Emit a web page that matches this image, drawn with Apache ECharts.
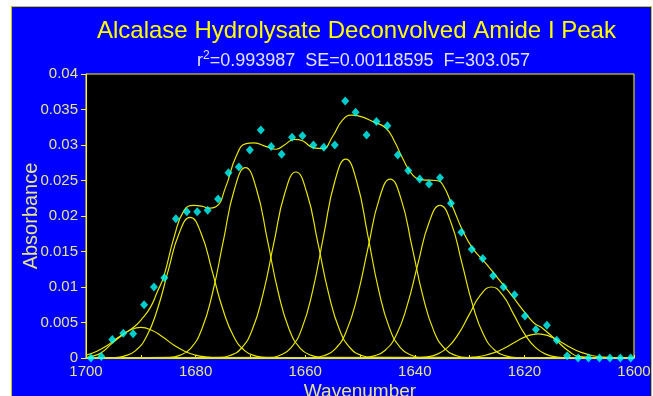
<!DOCTYPE html>
<html>
<head>
<meta charset="utf-8">
<script src="https://cdn.jsdelivr.net/npm/echarts@6/dist/echarts.min.js"></script>
<style>
html,body{margin:0;padding:0;background:#ffffff;width:653px;height:396px;overflow:hidden;}
#panel{position:absolute;left:11px;top:6px;width:641px;height:390px;background:#0000ff;border:1px solid #c8c800;border-bottom:none;box-sizing:border-box;}
#chart{position:absolute;left:0;top:0;width:653px;height:396px;}
</style>
</head>
<body>
<div id="panel"></div>
<div id="chart"></div>
<script>
// ---- data ----
const titleText = 'Alcalase Hydrolysate Deconvolved Amide I Peak';
const statR2 = '0.993987';
const statSE = '0.00118595';
const statF = '303.057';

// measured spectrum points (wavenumber, absorbance)
const scanWavenumber = [1699.1,1697.2,1695.2,1693.2,1691.4,1689.4,1687.6,1685.7,1683.6,1681.6,1679.7,1677.8,1675.9,1674.0,1672.1,1670.1,1668.1,1666.2,1664.3,1662.4,1660.5,1658.5,1656.6,1654.6,1652.7,1650.8,1648.8,1647.0,1645.0,1643.1,1641.2,1639.1,1637.4,1635.4,1633.4,1631.5,1629.6,1627.6,1625.7,1623.8,1621.8,1619.9,1617.9,1615.9,1614.1,1612.2,1610.2,1608.3,1606.3,1604.4,1602.5,1600.6];
const scanAbsorbance = [0.0000,0.0002,0.0026,0.0035,0.0034,0.0075,0.0100,0.0113,0.0196,0.0206,0.0206,0.0208,0.0224,0.0261,0.0269,0.0293,0.0321,0.0298,0.0287,0.0311,0.0313,0.0300,0.0297,0.0300,0.0362,0.0346,0.0314,0.0333,0.0327,0.0286,0.0264,0.0252,0.0245,0.0254,0.0218,0.0177,0.0153,0.0140,0.0116,0.0100,0.0089,0.0059,0.0040,0.0046,0.0025,0.0003,0.0000,0.0000,0.0000,0.0000,0.0000,0.0000];

// fitted envelope
const fitWavenumber = [1700,1699.1,1697.3,1695.2,1693.4,1691.2,1689.7,1688.2,1687.0,1685.8,1683.9,1682.1,1680.3,1678.5,1677.8,1676.3,1674.5,1672.6,1670.8,1669.3,1667.2,1665.3,1663.8,1662.0,1660.5,1658.5,1656.8,1655.0,1653.2,1651.6,1649.8,1647.7,1645.3,1643.7,1642.2,1640.4,1638.6,1636.1,1634.9,1633.1,1631.3,1629.4,1627.0,1624.6,1622.1,1619.7,1618.2,1616.7,1614.2,1611.8,1610.0,1605,1600];
const fitAbsorbance = [0.0001,0.0002,0.0007,0.0021,0.0032,0.0044,0.0056,0.0072,0.0093,0.0115,0.0171,0.0208,0.0215,0.0213,0.0211,0.0213,0.0241,0.0284,0.0302,0.0303,0.0298,0.0294,0.0300,0.0308,0.0306,0.0296,0.0295,0.0312,0.0335,0.0342,0.0340,0.0333,0.0324,0.0305,0.0281,0.0258,0.0251,0.0250,0.0244,0.0213,0.0180,0.0154,0.0133,0.0110,0.0086,0.0062,0.0049,0.0042,0.0025,0.0009,0.0002,0.0000,0.0000];

// deconvolved component bands
const band1 = [[1700,0.00040],[1698,0.00095],[1696,0.00184],[1694,0.00295],[1692,0.00391],[1690,0.00430],[1688,0.00391],[1686,0.00295],[1684,0.00184],[1682,0.00095],[1680,0.00040],[1678,0.00014],[1676,0.00004],[1600,0]];
const band2 = [[1700,0],[1695,0.00006],[1693,0.00027],[1691,0.00101],[1689,0.00295],[1687,0.00679],[1685,0.01230],[1683,0.01758],[1681,0.01980],[1679,0.01758],[1677,0.01230],[1675,0.00679],[1673,0.00295],[1671,0.00101],[1669,0.00027],[1667,0.00006],[1600,0]];
const band3 = [[1700,0],[1684.9,0.00008],[1682.9,0.00037],[1680.9,0.00137],[1678.9,0.00399],[1676.9,0.00919],[1674.9,0.01664],[1672.9,0.02380],[1670.9,0.02680],[1668.9,0.02380],[1666.9,0.01664],[1664.9,0.00919],[1662.9,0.00399],[1660.9,0.00137],[1658.9,0.00037],[1656.9,0.00008],[1600,0]];
const band4 = [[1700,0],[1675.7,0.00008],[1673.7,0.00036],[1671.7,0.00134],[1669.7,0.00390],[1667.7,0.00899],[1665.7,0.01627],[1663.7,0.02327],[1661.7,0.02620],[1659.7,0.02327],[1657.7,0.01627],[1655.7,0.00899],[1653.7,0.00390],[1651.7,0.00134],[1649.7,0.00036],[1647.7,0.00008],[1600,0]];
const band5 = [[1700,0],[1666.6,0.00008],[1664.6,0.00039],[1662.6,0.00143],[1660.6,0.00417],[1658.6,0.00960],[1656.6,0.01739],[1654.6,0.02486],[1652.6,0.02800],[1650.6,0.02486],[1648.6,0.01739],[1646.6,0.00960],[1644.6,0.00417],[1642.6,0.00143],[1640.6,0.00039],[1638.6,0.00008],[1600,0]];
const band6 = [[1700,0],[1658.5,0.00007],[1656.5,0.00035],[1654.5,0.00129],[1652.5,0.00375],[1650.5,0.00864],[1648.5,0.01565],[1646.5,0.02238],[1644.5,0.02520],[1642.5,0.02238],[1640.5,0.01565],[1638.5,0.00864],[1636.5,0.00375],[1634.5,0.00129],[1632.5,0.00035],[1630.5,0.00007],[1600,0]];
const band7 = [[1700,0],[1649.4,0.00006],[1647.4,0.00030],[1645.4,0.00110],[1643.4,0.00320],[1641.4,0.00737],[1639.4,0.01335],[1637.4,0.01909],[1635.4,0.02150],[1633.4,0.01909],[1631.4,0.01335],[1629.4,0.00737],[1627.4,0.00320],[1625.4,0.00110],[1623.4,0.00030],[1621.4,0.00006],[1600,0]];
const band8 = [[1700,0],[1640,0.00003],[1638,0.00014],[1636,0.00051],[1634,0.00149],[1632,0.00343],[1630,0.00621],[1628,0.00888],[1626,0.01000],[1624,0.00888],[1622,0.00621],[1620,0.00343],[1618,0.00149],[1616,0.00051],[1614,0.00014],[1612,0.00003],[1600,0]];
const band9 = [[1700,0],[1631.5,0.00003],[1629.5,0.00011],[1627.5,0.00032],[1625.5,0.00075],[1623.5,0.00145],[1621.5,0.00233],[1619.5,0.00309],[1617.5,0.00340],[1615.5,0.00309],[1613.5,0.00233],[1611.5,0.00145],[1609.5,0.00075],[1607.5,0.00032],[1605.5,0.00011],[1603.5,0.00003],[1600,0]];
const bands = [band1, band2, band3, band4, band5, band6, band7, band8, band9];

// ---- chart ----
const YEL = '#ffff00';
const LBL = '#e4e48c';
const FONT = '"Liberation Sans", Arial, sans-serif';

const chart = echarts.init(document.getElementById('chart'), null, {renderer: 'canvas'});

const series = [];
bands.forEach(function (b, i) {
  series.push({
    name: 'band' + (i + 1), type: 'line', data: b, smooth: 0.5,
    showSymbol: false, symbol: 'none', lineStyle: {color: '#e6e600', width: 1.2}, z: 2, animation: false
  });
});
series.push({
  name: 'fit', type: 'line', data: fitWavenumber.map(function (x, i) { return [x, fitAbsorbance[i]]; }),
  smooth: 0.5, showSymbol: false, symbol: 'none', lineStyle: {color: '#e6e600', width: 1.2}, z: 3, animation: false
});
series.push({
  name: 'scan', type: 'scatter', data: scanWavenumber.map(function (x, i) { return [x, scanAbsorbance[i]]; }),
  symbol: 'diamond', symbolSize: [8, 9], itemStyle: {color: '#00ffff'}, z: 4, animation: false
});

chart.setOption({
  backgroundColor: 'transparent',
  animation: false,
  title: [
    {text: titleText, left: 97, top: 18, padding: 0,
     textStyle: {color: YEL, fontFamily: FONT, fontSize: 24, fontWeight: 'normal', lineHeight: 26}},
    {text: '{a|r}{s|2}{a|=' + statR2 + '  SE=' + statSE + '  F=' + statF + '}', left: 197, top: 50, padding: 0,
     textStyle: {fontWeight: 'normal', rich: {
       a: {color: '#e2e2ff', fontFamily: FONT, fontSize: 18, fontWeight: 'normal', lineHeight: 22},
       s: {color: '#e2e2ff', fontFamily: FONT, fontSize: 12, fontWeight: 'normal', lineHeight: 22, verticalAlign: 'top', padding: [0, 0, 6, 0]}
     }}}
  ],
  grid: {left: 86, top: 74, width: 548, height: 284, containLabel: false, outerBoundsMode: 'none',
         show: true, backgroundColor: '#000000', borderColor: YEL, borderWidth: 1},
  xAxis: {
    type: 'value', min: 1600, max: 1700, interval: 20, inverse: true,
    name: 'Wavenumber', nameLocation: 'middle', nameGap: 24, nameMoveOverlap: false,
    nameTextStyle: {color: LBL, fontFamily: FONT, fontSize: 19},
    axisLine: {show: true, lineStyle: {color: YEL}},
    axisTick: {show: true, inside: true, length: 3, lineStyle: {color: YEL}},
    minorTick: {show: true, splitNumber: 2, length: 3, lineStyle: {color: YEL}},
    axisLabel: {color: LBL, fontFamily: FONT, fontSize: 15, margin: 6, formatter: function (v) { return String(v); }},
    splitLine: {show: false}
  },
  yAxis: {
    type: 'value', min: 0, max: 0.04, interval: 0.005,
    name: 'Absorbance', nameLocation: 'middle', nameGap: 45, nameRotate: 90, nameMoveOverlap: false,
    nameTextStyle: {color: LBL, fontFamily: FONT, fontSize: 20},
    axisLine: {show: true, lineStyle: {color: YEL}},
    axisTick: {show: true, length: 5, lineStyle: {color: YEL}},
    axisLabel: {color: LBL, fontFamily: FONT, fontSize: 15, margin: 8},
    splitLine: {show: false}
  },
  series: series
});
</script>
</body>
</html>
